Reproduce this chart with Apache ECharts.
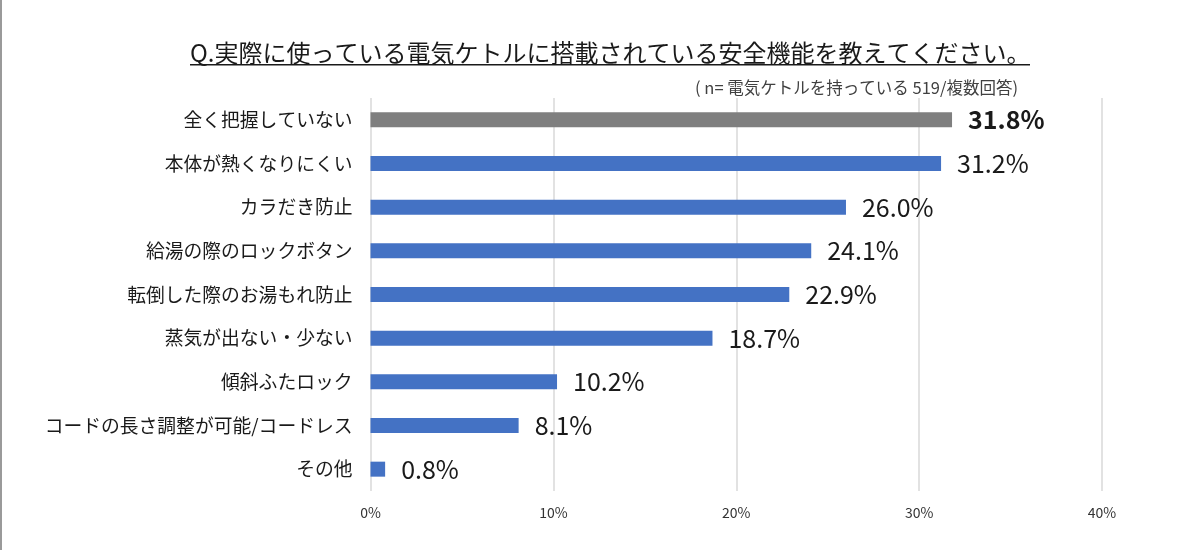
<!DOCTYPE html>
<html>
<head>
<meta charset="utf-8">
<script src="https://cdn.jsdelivr.net/npm/echarts@6/dist/echarts.min.js"></script>
<style>
	html, body { margin: 0; padding: 0; background: #fff; }
</style>
</head>
<body>
<!-- 描画エリア -->
<div id="barChart" style="width:1204px; height:550px;"></div>
<script>
	// データ（上から順）
	var categories = ['全く把握していない', '本体が熱くなりにくい', 'カラだき防止', '給湯の際のロックボタン', '転倒した際のお湯もれ防止', '蒸気が出ない・少ない', '傾斜ふたロック', 'コードの長さ調整が可能/コードレス', 'その他'];
	var values = [31.8, 31.2, 26.0, 24.1, 22.9, 18.7, 10.2, 8.1, 0.8];
	var axisTicks = [0, 10, 20, 30, 40];

	var font = '"Noto Sans CJK JP", "Noto Sans", sans-serif';

	// 先頭だけグレー＋太字
	var seriesData = [];
	for (var i = 0; i < values.length; i++) {
		if (i == 0) {
			seriesData.push({
				value: values[i],
				itemStyle: { color: '#7f7f7f' },
				label: { fontWeight: 'bold' }
			});
		} else {
			seriesData.push({ value: values[i] });
		}
	}

	var myChart = echarts.init(document.getElementById('barChart'));
	myChart.setOption({
		animation: false,
		title: [
			{
				text: 'Q.実際に使っている電気ケトルに搭載されている安全機能を教えてください。',
				left: 190,
				top: 41,
				padding: 0,
				textStyle: { fontFamily: font, fontSize: 24, fontWeight: 'normal', color: '#1a1a1a' }
			},
			{
				text: '( n= 電気ケトルを持っている 519/複数回答)',
				right: 186,
				top: 79,
				padding: 0,
				textStyle: { fontFamily: font, fontSize: 16.5, fontWeight: 'normal', color: '#404040' }
			}
		],
		graphic: [
			// タイトルの下線
			{ type: 'rect', shape: { x: 190, y: 64, width: 840, height: 1.5 }, style: { fill: '#1a1a1a' } },
			// 左端の枠線
			{ type: 'rect', shape: { x: 0, y: 0, width: 2, height: 550 }, style: { fill: '#9a9a9a' } }
		],
		grid: { left: 370.5, right: 102, top: 98, bottom: 59 },
		xAxis: {
			type: 'value',
			min: axisTicks[0],
			max: axisTicks[axisTicks.length - 1],
			interval: axisTicks[1] - axisTicks[0],
			axisLine: { show: false },
			axisTick: { show: false },
			splitLine: { lineStyle: { color: '#d9d9d9', width: 1.5 } },
			axisLabel: {
				formatter: '{value}%',
				fontFamily: font,
				fontSize: 14,
				color: '#333',
				margin: 15
			}
		},
		yAxis: {
			type: 'category',
			inverse: true,
			data: categories,
			axisLine: { show: false },
			axisTick: { show: false },
			axisLabel: {
				fontFamily: font,
				fontSize: 18.8,
				color: '#1a1a1a',
				margin: 18
			}
		},
		series: [
			{
				type: 'bar',
				data: seriesData,
				barWidth: 15,
				itemStyle: { color: '#4472c4' },
				label: {
					show: true,
					position: 'right',
					distance: 16,
					fontFamily: font,
					fontSize: 25,
					color: '#1a1a1a',
					formatter: function(p) { return p.value.toFixed(1) + '%'; }
				}
			}
		]
	});
</script>
</body>
</html>
